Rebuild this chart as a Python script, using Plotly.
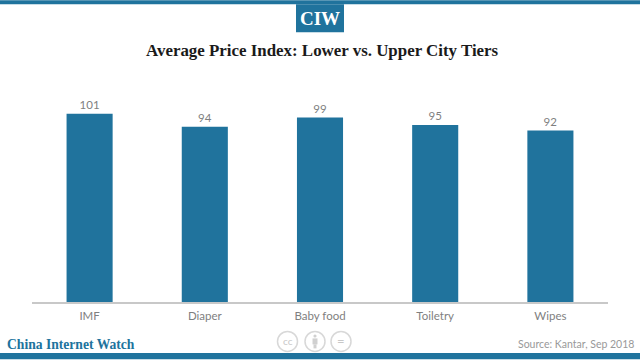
import plotly.graph_objects as go

categories = ["IMF", "Diaper", "Baby food", "Toiletry", "Wipes"]
values = [101, 94, 99, 95, 92]

BLUE = "#20739d"
GREY = "#7f7f7f"
W, H = 640, 360
ML, MR, MT, MB = 32, 32, 97, 57.5
PW, PH = W - ML - MR, H - MT - MB

def px(x):
    return (x - ML) / PW

def py(y):
    return (H - MB - y) / PH

fig = go.Figure(go.Bar(
    x=categories, y=values, marker=dict(color=BLUE, line=dict(width=0)),
    text=values, textposition="outside", cliponaxis=False,
    textfont=dict(family="Lato", size=11.5, color=GREY), hoverinfo="skip",
))

shapes = [
    dict(type="rect", x0=px(0), x1=px(W), y0=py(4), y1=py(0), fillcolor=BLUE),
    dict(type="rect", x0=px(0), x1=px(W), y0=py(H), y1=py(353.5), fillcolor=BLUE),
    dict(type="rect", x0=px(296), x1=px(344), y0=py(32), y1=py(4), fillcolor=BLUE),
]
for cx in (287.5, 315, 341):
    shapes.append(dict(type="circle", x0=px(cx - 10), x1=px(cx + 10), y0=py(352), y1=py(332),
                       fillcolor="white", line=dict(color="#d8d8d8", width=1.5)))
# person glyph of the licence badge
shapes.append(dict(type="circle", x0=px(313.4), x1=px(316.6), y0=py(338.2), y1=py(335), fillcolor="#d0d0d0"))
shapes.append(dict(type="rect", x0=px(312.5), x1=px(317.5), y0=py(345), y1=py(339), fillcolor="#d0d0d0"))
shapes.append(dict(type="rect", x0=px(313.5), x1=px(316.5), y0=py(349), y1=py(345), fillcolor="#d0d0d0"))
shapes = [dict(s, xref="paper", yref="paper", **({"line": {"width": 0}} if "line" not in s else {})) for s in shapes]

def note(text, x, y, size, color, family, anchor="center", bold=False):
    return dict(text=f"<b>{text}</b>" if bold else text, x=px(x), y=py(y), xref="paper", yref="paper",
                showarrow=False, xanchor=anchor, yanchor="middle",
                font=dict(family=family, size=size, color=color))

annotations = [
    note("CIW", 320, 18, 19, "white", "Liberation Serif", bold=True),
    note("Average Price Index: Lower vs. Upper City Tiers", 322.5, 50, 16.9, "#1a1a1a", "Liberation Serif", bold=True),
    note("China Internet Watch", 5, 345.5, 13.6, BLUE, "Liberation Serif", "left", bold=True),
    note("Source: Kantar, Sep 2018", 636, 344.5, 10.5, "#999999", "Lato", "right"),
    note("cc", 287.5, 341.5, 10, "#c8c8c8", "Lato"),
    note("=", 341, 341.5, 13, "#c8c8c8", "Lato"),
]

fig.update_layout(
    width=W, height=H, autosize=False, bargap=0.6, showlegend=False,
    margin=dict(l=ML, r=MR, t=MT, b=MB, pad=0),
    paper_bgcolor="white", plot_bgcolor="white",
    shapes=shapes, annotations=annotations,
    xaxis=dict(showline=True, linecolor="#c8c8c8", linewidth=1.5, ticks="", showgrid=False,
               ticklabelstandoff=2,
               tickfont=dict(family="Lato", size=11.5, color=GREY), fixedrange=True),
    yaxis=dict(range=[0, 110], visible=False, showgrid=False, fixedrange=True),
)
fig.write_html("out.html", config={"displayModeBar": False},
               post_script="document.body.style.margin='0';document.documentElement.style.overflow='hidden';")
